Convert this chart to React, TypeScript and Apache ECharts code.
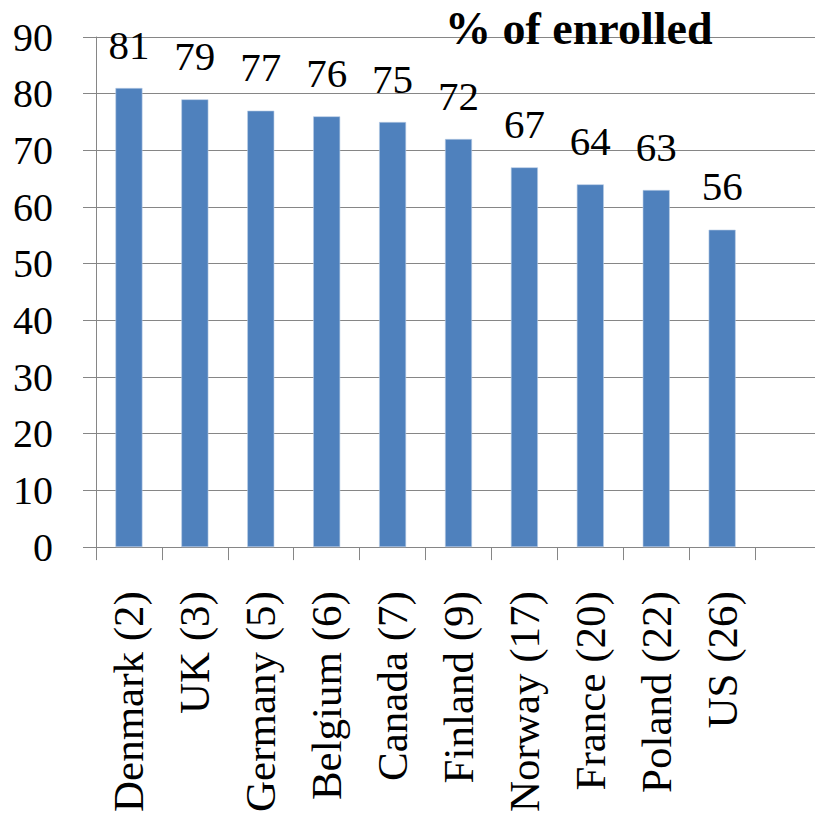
import React, { useEffect, useRef } from "react";
import * as echarts from "echarts";

// Countries with their rank in parentheses; the trailing empty slot keeps the extra column on the right.
const categories = [
  "Denmark (2)",
  "UK (3)",
  "Germany (5)",
  "Belgium (6)",
  "Canada (7)",
  "Finland (9)",
  "Norway (17)",
  "France (20)",
  "Poland (22)",
  "US (26)",
  "",
];
const enrolledPct: (number | null)[] = [81, 79, 77, 76, 75, 72, 67, 64, 63, 56, null];
const yTicks = { min: 0, max: 90, interval: 10 };
const titleText = "% of enrolled";

const FONT = "Liberation Serif";
const GRAY = "#868686";
const BAR = "#4F81BD";

export default function App() {
  const ref = useRef<HTMLDivElement>(null);

  useEffect(() => {
    if (!ref.current) return;
    const chart = echarts.init(ref.current, null, { renderer: "svg" });
    chart.setOption({
      animation: false,
      backgroundColor: "#ffffff",
      title: {
        text: titleText,
        left: 440,
        top: 0,
        textStyle: {
          fontFamily: FONT,
          fontSize: 46,
          fontWeight: "bold",
          color: "#000",
        },
      },
      grid: { left: 96, right: 0, top: 37, bottom: 267, containLabel: false },
      xAxis: {
        type: "category",
        data: categories,
        boundaryGap: true,
        axisLine: { show: true, lineStyle: { color: GRAY, width: 1 } },
        axisTick: { show: true, length: 13, lineStyle: { color: GRAY } },
        axisLabel: {
          rotate: 90,
          interval: 0,
          margin: 44,
          fontFamily: FONT,
          fontSize: 43,
          color: "#000",
        },
        splitLine: { show: false },
      },
      yAxis: {
        type: "value",
        min: yTicks.min,
        max: yTicks.max,
        interval: yTicks.interval,
        axisLine: { show: true, lineStyle: { color: GRAY, width: 1 } },
        axisTick: { show: true, length: 13, lineStyle: { color: GRAY } },
        axisLabel: {
          margin: 43,
          fontFamily: FONT,
          fontSize: 40,
          color: "#000",
        },
        splitLine: { show: true, lineStyle: { color: GRAY, width: 1 } },
      },
      series: [
        {
          type: "bar",
          data: enrolledPct,
          barWidth: 27,
          itemStyle: { color: BAR, borderColor: "#B9CDE5", borderWidth: 0.6 },
          label: {
            show: true,
            position: "top",
            distance: 23,
            fontFamily: FONT,
            fontSize: 41,
            color: "#000",
          },
        },
      ],
    });
    return () => chart.dispose();
  }, []);

  return (
    <div
      style={{
        position: "fixed",
        left: 0,
        top: 0,
        width: 815,
        height: 815,
        overflow: "hidden",
        background: "#fff",
      }}
    >
      <div ref={ref} style={{ width: 821, height: 815 }} />
    </div>
  );
}
